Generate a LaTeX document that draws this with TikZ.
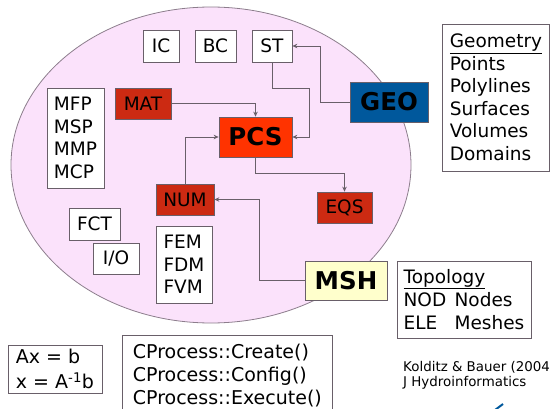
\documentclass[tikz,border=0pt]{standalone}
\usepackage{fontspec}
\setmainfont{DejaVu Sans}
\usetikzlibrary{arrows.meta}
\definecolor{ovalpink}{RGB}{251,226,251}
\definecolor{ovalgray}{RGB}{140,125,140}
\definecolor{edgegray}{RGB}{105,95,105}
\definecolor{modred}{RGB}{204,42,18}
\definecolor{pcsred}{RGB}{255,51,0}
\definecolor{geoblue}{RGB}{0,88,156}
\definecolor{mshyellow}{RGB}{255,255,204}

\begin{document}
\begin{tikzpicture}[
  x=1pt, y=-1pt,
  box/.style={rectangle, draw=edgegray, line width=0.7pt, fill=white,
    inner sep=0pt, align=left, font=\fontsize{18.5}{22.7}\selectfont},
  module/.style={box, fill=modred},
  core/.style={box, font=\fontsize{24.5}{28}\selectfont\bfseries},
  link/.style={-{Stealth[length=5pt,width=4.5pt]}, draw=edgegray,
    line width=0.9pt}
]
  \useasboundingbox (0,0) rectangle (551,409);
  \clip (0,0) rectangle (551,409);

  % process oval
  \draw[fill=ovalpink, draw=ovalgray, line width=0.8pt]
    (211,165) ellipse [x radius=200, y radius=158];

  \node[box, minimum width=36pt, minimum height=32pt] (ic) at (161,46) {IC};
  \node[box, minimum width=41pt, minimum height=32pt] (bc) at (215.5,46) {BC};
  \node[box, minimum width=40pt, minimum height=32pt] (st) at (272,46) {ST};
  \node[box, minimum width=57pt, minimum height=100pt] (mfp) at (75.5,138)
    {MFP\\MSP\\MMP\\MCP};
  \node[module, minimum width=56pt, minimum height=31pt] (mat) at (143,103.5) {MAT};
  \node[core, fill=pcsred, minimum width=73pt, minimum height=40pt] (pcs)
    at (255.5,137) {PCS};
  \node[core, fill=geoblue, minimum width=78pt, minimum height=40pt] (geo)
    at (389,102) {GEO};
  \node[module, minimum width=58pt, minimum height=31pt] (num) at (185,199.5) {NUM};
  \node[module, minimum width=55pt, minimum height=31pt] (eqs) at (344.5,207.5) {EQS};
  \node[box, minimum width=51pt, minimum height=32pt] (fct) at (94.5,224) {FCT};
  \node[box, minimum width=46pt, minimum height=31pt] (io) at (116,258.5) {I/O};
  \node[box, minimum width=56pt, minimum height=77pt] (fem) at (184,264.5)
    {FEM\\FDM\\FVM};
  \node[core, fill=mshyellow, minimum width=82pt, minimum height=39pt] (msh)
    at (346,280.5) {MSH};

  % side boxes
  \node[box, minimum width=107pt, minimum height=147pt,
    font=\fontsize{18.5}{22.5}\selectfont] (geom) at (496,97.5)
    {\underline{Geometry}\\Points\\Polylines\\Surfaces\\Volumes\\Domains};
  \node[box, minimum width=134pt, minimum height=77pt,
    font=\fontsize{18.5}{23}\selectfont] (topo) at (464,299.5)
    {\underline{Topology}\\\makebox[51pt][l]{NOD}Nodes\\\makebox[51pt][l]{ELE}Meshes};
  \node[box, minimum width=94pt, minimum height=48pt,
    font=\fontsize{19}{25}\selectfont] (lin) at (55,369)
    {Ax = b\\x = A\textsuperscript{-1}b};
  \node[box, anchor=north west, minimum width=210pt, minimum height=80pt,
    font=\fontsize{19}{23.3}\selectfont] (cproc) at (122,335)
    {CProcess::Create()\\CProcess::Config()\\CProcess::Execute()};
  \node[anchor=west, align=left, inner sep=0pt,
    font=\fontsize{13.4}{15.5}\selectfont] (ref) at (403,375.5)
    {Kolditz \& Bauer (2004\\J Hydroinformatics};
  \draw[geoblue, line width=2pt] (495,410) -- (503,404);

  % connectors
  \draw[link] (geo.west) -- ++(-29,0) |- (st.east);
  \draw[link] (st.south) -- ++(0,26) -- ++(37,0) |- (pcs.east);
  \draw[link] (mat.east) -| (pcs.north);
  \draw[link] (num.north) |- (pcs.west);
  \draw[link] (pcs.south) -- ++(0,16) -| (eqs.north);
  \draw[link] (msh.west) -- ++(-45,0) |- (num.east);
\end{tikzpicture}
\end{document}
